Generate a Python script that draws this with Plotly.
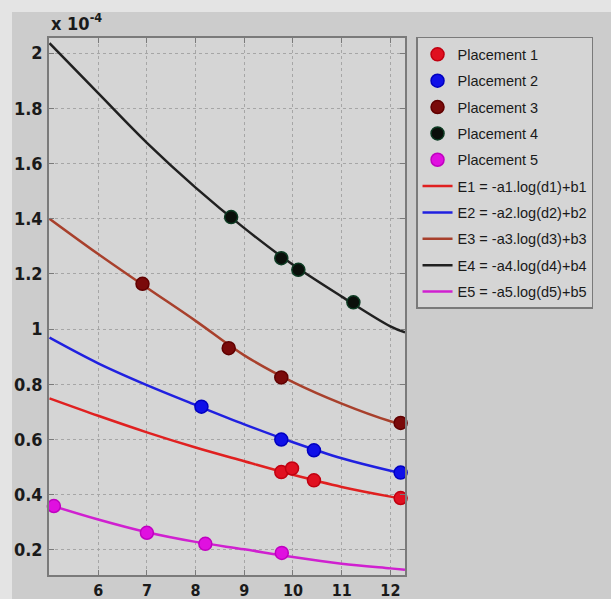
import plotly.graph_objects as go

# Fitted-curve samples (values in units of 1e-4)
curve_x = [5.0, 6, 7, 8, 9, 10, 11, 12, 12.3]
e1 = [0.749, 0.686, 0.626, 0.571, 0.521, 0.472, 0.428, 0.393, 0.384]
e2 = [0.969, 0.876, 0.797, 0.725, 0.655, 0.590, 0.532, 0.487, 0.476]
e3 = [1.400, 1.272, 1.150, 1.030, 0.905, 0.808, 0.730, 0.666, 0.652]
e4 = [2.036, 1.855, 1.675, 1.513, 1.366, 1.233, 1.118, 1.010, 0.988]
e5 = [0.363, 0.310, 0.264, 0.229, 0.202, 0.174, 0.150, 0.133, 0.128]

# Measured points
p1_x = [9.76, 9.98, 10.43, 12.21]
p1_y = [0.482, 0.495, 0.452, 0.388]
p2_x = [8.12, 9.76, 10.43, 12.21]
p2_y = [0.719, 0.600, 0.561, 0.480]
p3_x = [6.91, 8.68, 9.76, 12.21]
p3_y = [1.164, 0.931, 0.825, 0.660]
p4_x = [8.73, 9.76, 10.11, 11.24]
p4_y = [1.406, 1.257, 1.215, 1.097]
p5_x = [5.09, 7.00, 8.20, 9.77]
p5_y = [0.359, 0.262, 0.222, 0.189]

x_ticks = [6, 7, 8, 9, 10, 11, 12]
y_ticks = [0.2, 0.4, 0.6, 0.8, 1.0, 1.2, 1.4, 1.6, 1.8, 2.0]
y_ticktext = ["0.2", "0.4", "0.6", "0.8", "1", "1.2", "1.4", "1.6", "1.8", "2"]

point_names = ["Placement 1", "Placement 2", "Placement 3", "Placement 4", "Placement 5"]
curve_names = ["E1 = -a1.log(d1)+b1", "E2 = -a2.log(d2)+b2", "E3 = -a3.log(d3)+b3",
               "E4 = -a4.log(d4)+b4", "E5 = -a5.log(d5)+b5"]
point_colors = ["#e01020", "#1010e8", "#7a0a0a", "#0a0f0a", "#e010e0"]
point_edges = ["#c00010", "#0000c0", "#600000", "#0c3a22", "#c000c0"]
curve_colors = ["#e02020", "#2020e0", "#a8402c", "#202020", "#d020d0"]

TICK_FONT = "Liberation Sans Narrow, Arial Narrow, DejaVu Sans Condensed, Liberation Sans"

fig = go.Figure()

curves = [e1, e2, e3, e4, e5]
pts = [(p1_x, p1_y), (p2_x, p2_y), (p3_x, p3_y), (p4_x, p4_y), (p5_x, p5_y)]

for i, c in enumerate(curves):
    fig.add_trace(go.Scatter(
        x=curve_x, y=c, mode="lines", name=curve_names[i],
        line=dict(color=curve_colors[i], width=2.5, shape="spline"),
        legendgroup="c%d" % i, legendrank=100 + i))
for i, (px, py) in enumerate(pts):
    fig.add_trace(go.Scatter(
        x=px, y=py, mode="markers", name=point_names[i],
        marker=dict(color=point_colors[i], size=13,
                    line=dict(color=point_edges[i], width=1.5)),
        legendgroup="p%d" % i, legendrank=i, cliponaxis=False))

axis_common = dict(
    showline=True, linecolor="#7a7a7a", linewidth=1.5, mirror="ticks",
    ticks="inside", ticklen=5, tickcolor="#7a7a7a",
    showgrid=True, gridcolor="#a6a6a6", griddash="dot", gridwidth=1,
    zeroline=False, automargin=False,
)

fig.update_xaxes(range=[4.99, 12.3], tickvals=x_ticks, ticklabelstandoff=0,
                 tickfont=dict(family=TICK_FONT, size=16, color="#1a1a1a", weight="bold"),
                 **axis_common)
fig.update_yaxes(range=[0.109, 2.055], tickvals=y_ticks, ticktext=y_ticktext,
                 ticklabelstandoff=1,
                 tickfont=dict(family=TICK_FONT, size=18, color="#1a1a1a", weight="bold"),
                 **axis_common)

fig.update_layout(
    width=611, height=599,
    margin=dict(l=49, r=206, t=38, b=24),
    paper_bgcolor="#cccccc",
    plot_bgcolor="#d5d5d5",
    showlegend=True,
    legend=dict(
        x=1.031, y=1.002, xanchor="left", yanchor="top",
        bgcolor="#d5d5d5", bordercolor="#7a7a7a", borderwidth=1.5,
        font=dict(family="Liberation Sans, Arial", size=14.5, color="#1a1a1a"),
        traceorder="grouped", tracegroupgap=4.5,
    ),
    annotations=[dict(
        text="<b>x 10<sup>-4</sup></b>", xref="paper", yref="paper",
        x=0.0, y=1.0, xanchor="left", yanchor="bottom", yshift=2,
        showarrow=False,
        font=dict(family=TICK_FONT, size=18, color="#1a1a1a"),
    )],
    shapes=[
        dict(type="rect", xref="paper", yref="paper",
             x0=-49 / 356, x1=(611 - 49) / 356, y0=(575 - 12) / 537, y1=(575 + 5) / 537 + 0.02,
             fillcolor="#e4e4e4", line=dict(width=0), layer="below"),
        dict(type="rect", xref="paper", yref="paper",
             x0=-49 / 356, x1=-37 / 356, y0=-24 / 537 - 0.01, y1=(575 + 5) / 537 + 0.02,
             fillcolor="#e4e4e4", line=dict(width=0), layer="below"),
    ],
)

fig.write_html("out.html")
